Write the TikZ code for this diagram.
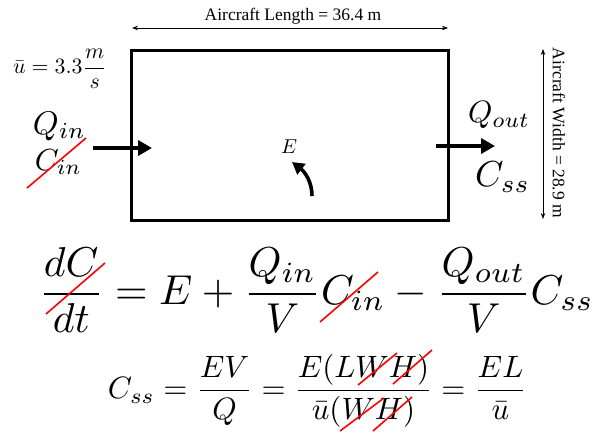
\documentclass[tikz,border=0pt]{standalone}
\usepackage{fontspec}
\usepackage{graphicx}
\newfontfamily\lbl{Liberation Serif}
\usetikzlibrary{arrows.meta}
\tikzset{
  box/.style={draw, line width=2.8pt, inner sep=0pt},
  flow/.style={line width=4pt, -{Triangle[length=14pt,width=15pt]}},
  eflow/.style={line width=3.6pt, -{Triangle[length=12pt,width=13pt]}},
  dim/.style={line width=0.7pt, {Stealth[length=6pt,width=4.5pt]}-{Stealth[length=6pt,width=4.5pt]}},
  lab/.style={font=\lbl\fontsize{17.5}{20}\selectfont, inner sep=0pt},
  mth/.style={inner sep=0pt},
  xout/.style={red, line width=1.6pt},
}
\newcommand\fitw[2]{\resizebox{#1}{!}{$\displaystyle #2$}}
\begin{document}
\begin{tikzpicture}[x=1pt,y=-1pt]
\useasboundingbox (0,0) rectangle (596,432);
% control volume
\node[box, minimum width=317pt, minimum height=170pt, anchor=north west] (room) at (130,49) {};
% dimensions
\coordinate (tl) at (132,28);
\coordinate (tr) at (448,28);
\draw[dim] (tl) -- (tr);
\node[lab] (len) at (293,16) {Aircraft Length = 36.4 m};
\coordinate (rt) at (543,49);
\coordinate (rb) at (543,219);
\draw[dim] (rt) -- (rb);
\node[lab, rotate=-90] (wid) at (559,133) {Aircraft Width = 28.9 m};
% labels
\node[mth] (u) at (60,69) {\fitw{94pt}{\bar u = 3.3\frac{m}{s}}};
\node[mth] (qin) at (59.5,126) {\fitw{53pt}{Q_{in}}};
\node[mth] (cin) at (58.5,162) {\fitw{47pt}{C_{in}}};
\node[mth] (qout) at (499,115) {\fitw{62pt}{Q_{out}}};
\node[mth] (css) at (502.5,177) {\fitw{55pt}{C_{ss}}};
\node[mth] (E) at (289,147) {\fitw{16pt}{E}};
% flows
\coordinate (inA) at (93,148);
\coordinate (inB) at (152,148);
\draw[flow] (inA) -- (inB);
\coordinate (outA) at (436,146);
\coordinate (outB) at (495,146);
\draw[flow] (outA) -- (outB);
\coordinate (es) at (312,196);
\coordinate (et) at (292,162);
\draw[eflow] (es) .. controls (312,182) and (305,172) .. (et);
% equations
\node[mth] (eq1) at (316.5,290) {\fitw{555pt}{\frac{dC}{dt} = E + \frac{Q_{in}}{V}C_{in} - \frac{Q_{out}}{V}C_{ss}}};
\node[mth] (eq2) at (317.5,391) {\fitw{419pt}{C_{ss} = \frac{EV}{Q} = \frac{E(LWH)}{\bar u(WH)} = \frac{EL}{\bar u}}};
% red cancellations
\draw[xout] (27,188) -- (86,138);
\draw[xout] (46,314) -- (105,263);
\draw[xout] (320,322) -- (378,272);
\draw[xout] (358,385) -- (397,353);
\draw[xout] (393,384) -- (432,350);
\draw[xout] (340,431) -- (384,398);
\draw[xout] (373,431) -- (412,397);
\end{tikzpicture}
\end{document}
